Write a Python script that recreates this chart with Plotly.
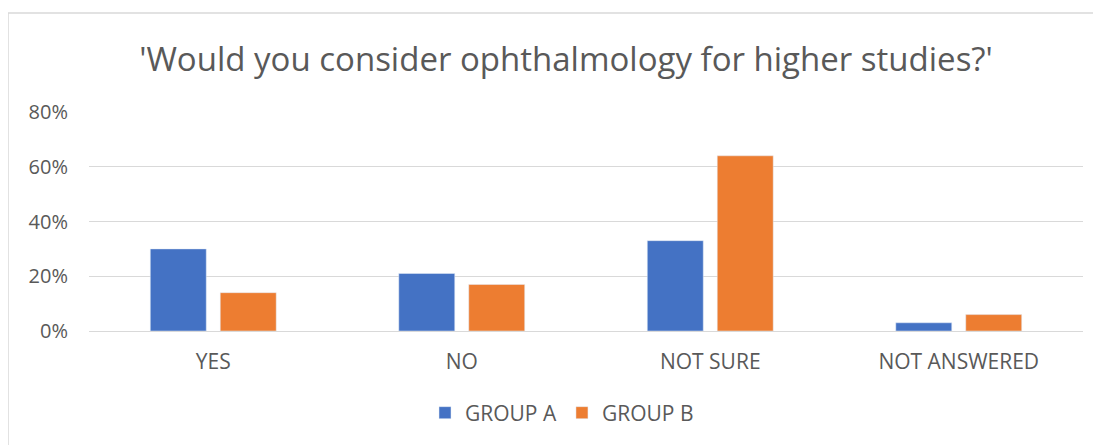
import plotly.graph_objects as go

categories = ["YES", "NO", "NOT SURE", "NOT ANSWERED"]
group_a = [0.30, 0.21, 0.33, 0.03]
group_b = [0.14, 0.17, 0.64, 0.06]
tick_vals = [0, 0.2, 0.4, 0.6, 0.8]
tick_text = ["0%", "20%", "40%", "60%", "80%"]

# page body has an 8px margin, so offsets are compensated
OFF = 8
W, H = 1101, 445
L, T = 89 - OFF, 112 - OFF
R = W - (1083 - OFF)
B = H - (331 - OFF)
pw, ph = W - L - R, H - T - B

fig = go.Figure()
fig.add_trace(go.Bar(name="GROUP A", x=categories, y=group_a, marker_color="#4472C4"))
fig.add_trace(go.Bar(name="GROUP B", x=categories, y=group_b, marker_color="#ED7D31"))

font_family = "Open Sans, Noto Sans, sans-serif"
fig.update_layout(
    width=W, height=H,
    margin=dict(l=L, r=R, t=T, b=B),
    paper_bgcolor="white", plot_bgcolor="white",
    barmode="group", bargap=0.437, bargroupgap=0.2,
    title=dict(text="'Would you consider ophthalmology for higher studies?'",
               x=(566 - OFF) / W, xanchor="center", y=1 - (59 - OFF) / H, yanchor="middle",
               font=dict(family=font_family, size=33, color="#595959")),
    font=dict(family=font_family, color="#595959"),
    legend=dict(orientation="h", x=0.5 + ((562 - OFF) - (L + pw / 2)) / pw, xanchor="center",
                y=-((413 - OFF) - (T + ph)) / ph, yanchor="middle",
                font=dict(size=21, color="#595959"),
                traceorder="normal"),
    showlegend=True,
)
fig.update_yaxes(range=[0, 0.8], tickvals=tick_vals, ticktext=tick_text,
                 showgrid=True, gridcolor="#D9D9D9", gridwidth=1,
                 zeroline=True, zerolinecolor="#D9D9D9", zerolinewidth=1,
                 showline=False, ticks="", ticklabelstandoff=20,
                 tickfont=dict(size=20, color="#595959"))
fig.update_xaxes(showgrid=False, showline=True, linecolor="#D9D9D9", ticks="",
                 tickfont=dict(size=21, color="#595959"), ticklabelstandoff=12)

fig.add_shape(type="rect", xref="paper", yref="paper",
              x0=(8 - OFF - L) / pw, x1=(W + 10 - L) / pw,
              y0=-(H + 10 - T - ph) / ph, y1=1 + (T - (13 - OFF)) / ph,
              line=dict(color="#D9D9D9", width=1.5), fillcolor="rgba(0,0,0,0)", layer="below")

fig.write_html("out.html")
